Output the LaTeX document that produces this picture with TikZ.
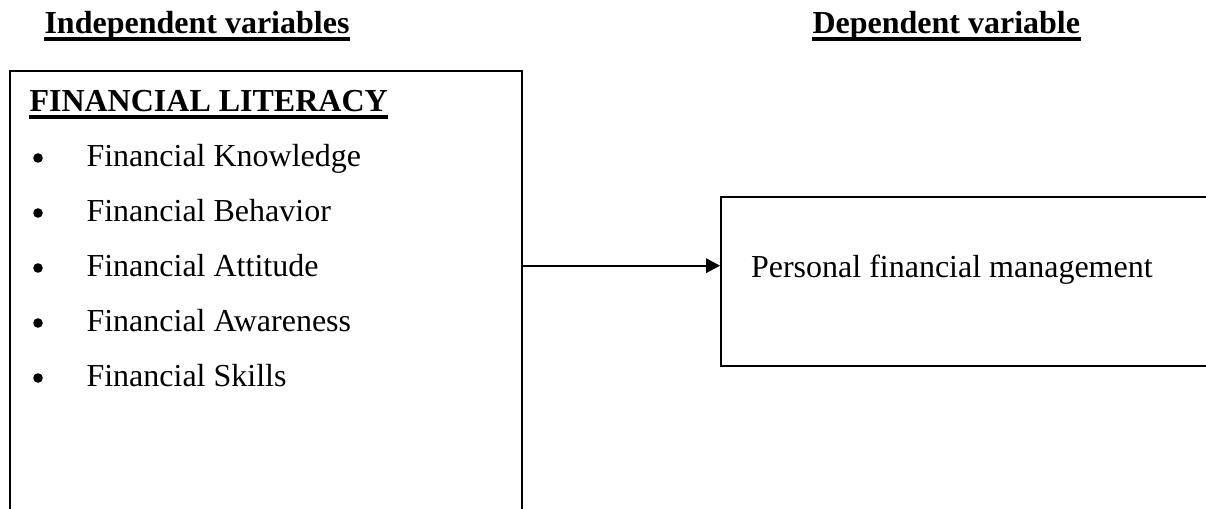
\documentclass[tikz,border=0pt]{standalone}
\usepackage{fontspec}
\setmainfont{Liberation Serif}
\usetikzlibrary{arrows.meta}
\begin{document}
\begin{tikzpicture}[x=0.375pt,y=-0.375pt,
  boxline/.style={draw=black,line width=0.75pt,rectangle,inner sep=0pt},
  heading/.style={anchor=base west,inner sep=0pt,font=\fontsize{12}{14}\selectfont\bfseries},
  item/.style={anchor=base west,inner sep=0pt,font=\fontsize{12}{14}\selectfont},
  bulletdot/.style={circle,fill=black,inner sep=0pt,minimum size=3.6pt},
  uline/.style={line width=1.5pt},
  conn/.style={line width=0.75pt,-{Triangle[length=5.25pt,width=5.4pt]}}]
\useasboundingbox (0,0) rectangle (1206,508);
\begin{scope}
\clip (0,0) rectangle (1206,508);
\node[boxline,minimum width=192pt,minimum height=183.5pt] (lit) at (266,315.3) {};
\node[boxline,minimum width=187.1pt,minimum height=63.15pt] (pfm) at (970.5,281.5) {};
\end{scope}
% headings
\node[heading] (ind) at (44,33) {Independent variables};
\node[heading] (dep) at (812,33) {Dependent variable};
\node[heading] (fl) at (29,111) {FINANCIAL LITERACY};
\draw[uline] ([yshift=-2.3pt]ind.base west) -- ([yshift=-2.3pt]ind.base east);
\draw[uline] ([yshift=-2.3pt]dep.base west) -- ([yshift=-2.3pt]dep.base east);
\draw[uline] ([yshift=-2.3pt]fl.base west) -- ([yshift=-2.3pt]fl.base east);
% items
\node[bulletdot] (b1) at (38,158) {};
\node[item] (i1) at (86,166) {Financial Knowledge};
\node[bulletdot] (b2) at (38,213) {};
\node[item] (i2) at (86,221) {Financial Behavior};
\node[bulletdot] (b3) at (38,268) {};
\node[item] (i3) at (86,276) {Financial Attitude};
\node[bulletdot] (b4) at (38,323) {};
\node[item] (i4) at (86,331) {Financial Awareness};
\node[bulletdot] (b5) at (38,378) {};
\node[item] (i5) at (86,386) {Financial Skills};
% dependent text
\node[item] (pt) at (750.5,277) {Personal financial management};
% connector
\coordinate (a0) at (0,265.7);
\draw[conn] (lit.east |- a0) -- (a0 -| pfm.west);
\end{tikzpicture}
\end{document}
